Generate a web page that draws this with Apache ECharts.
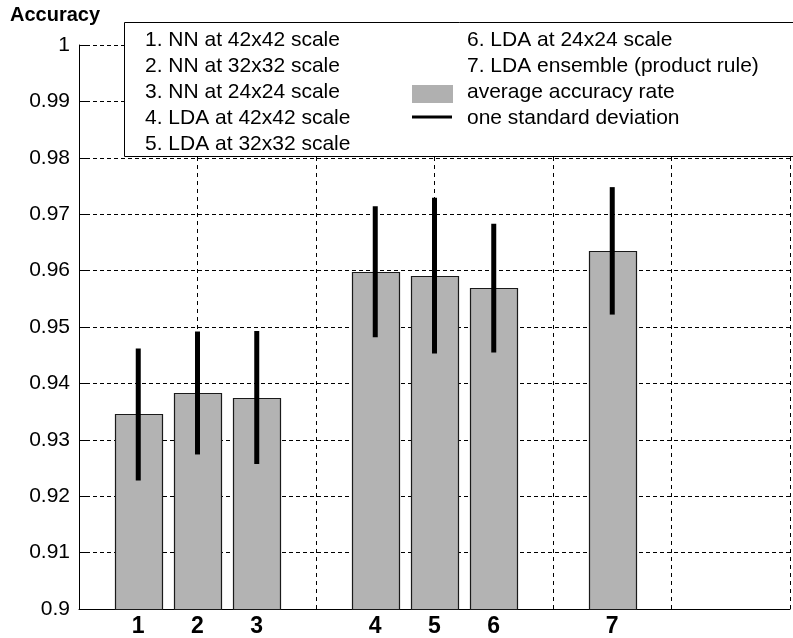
<!DOCTYPE html>
<html>
<head>
<meta charset="utf-8">
<script src="https://cdn.jsdelivr.net/npm/echarts@6/dist/echarts.min.js"></script>
<style>
html,body{margin:0;padding:0;background:#fff;}
#chart{width:793px;height:638px;}
</style>
</head>
<body>
<div id="chart"></div>
<script>
// ---- data ----
var positions = [1, 2, 3, 5, 6, 7, 9];
var categories = ['1', '2', '3', '4', '5', '6', '7'];
var meanAccuracy = [0.9345, 0.9383, 0.9375, 0.9598, 0.9591, 0.9569, 0.9635];
var stdDev = [0.0117, 0.0109, 0.0118, 0.0116, 0.0138, 0.0114, 0.0113];
var legendLeft = ['1. NN at 42x42 scale', '2. NN at 32x32 scale', '3. NN at 24x24 scale', '4. LDA at 42x42 scale', '5. LDA at 32x32 scale'];
var legendRight = ['6. LDA at 24x24 scale', '7. LDA ensemble (product rule)', 'average accuracy rate', 'one standard deviation'];
var yMin = 0.9, yMax = 1.0, yStep = 0.01;
var xMin = 0, xMax = 12;

var barData = positions.map(function (p, i) { return [p, meanAccuracy[i]]; });
var errData = positions.map(function (p, i) { return [p, meanAccuracy[i] - stdDev[i], meanAccuracy[i] + stdDev[i]]; });

var FONT = 'Liberation Sans, Arial, sans-serif';
var chart = echarts.init(document.getElementById('chart'), null, {renderer: 'canvas'});

var graphics = [];
graphics.push({
  type: 'text', left: 10, top: 5, z: 200,
  style: {text: 'Accuracy', font: 'bold 20px ' + FONT, fill: '#000'}
});
graphics.push({
  type: 'rect', z: 100,
  shape: {x: 124.5, y: 22.5, width: 720, height: 134},
  style: {fill: '#fff', stroke: '#000', lineWidth: 1}
});
legendLeft.forEach(function (t, i) {
  graphics.push({type: 'text', z: 101, x: 145, y: 40 + i * 26,
    style: {text: t, font: '21px ' + FONT, fill: '#000', verticalAlign: 'middle'}});
});
legendRight.forEach(function (t, i) {
  graphics.push({type: 'text', z: 101, x: 467, y: 40 + i * 26,
    style: {text: t, font: '21px ' + FONT, fill: '#000', verticalAlign: 'middle'}});
});
graphics.push({type: 'rect', z: 101, shape: {x: 412, y: 85, width: 41, height: 18},
  style: {fill: '#b0b0b0', stroke: null}});
graphics.push({type: 'line', z: 101, shape: {x1: 412, y1: 117, x2: 452, y2: 117},
  style: {stroke: '#000', lineWidth: 3}});

var option = {
  animation: false,
  backgroundColor: '#fff',
  grid: {left: 79, right: -6, top: 45, bottom: 27, containLabel: false},
  xAxis: [{
    type: 'value', min: xMin, max: xMax, interval: 2,
    axisLine: {show: true, onZero: false, lineStyle: {color: '#000', width: 1}},
    axisTick: {show: false},
    axisLabel: {show: false},
    splitLine: {show: true, lineStyle: {color: '#000', width: 1, type: [4, 4]}}
  }, {
    type: 'value', min: xMin, max: xMax, interval: 1, position: 'bottom',
    axisLine: {show: false}, axisTick: {show: false}, splitLine: {show: false},
    axisLabel: {
      show: true, margin: 6, color: '#000', fontSize: 23, fontWeight: 'bold', fontFamily: FONT,
      formatter: function (v) {
        var idx = positions.indexOf(Math.round(v));
        return idx >= 0 && Math.abs(v - positions[idx]) < 1e-6 ? categories[idx] : '';
      }
    }
  }],
  yAxis: {
    type: 'value', min: yMin, max: yMax, interval: yStep,
    axisLine: {show: true, lineStyle: {color: '#000', width: 1}},
    axisTick: {show: true, inside: true, length: 8, lineStyle: {color: '#000'}},
    axisLabel: {
      color: '#000', fontSize: 21, fontFamily: FONT, margin: 9,
      formatter: function (v) { return String(parseFloat(v.toFixed(2))); }
    },
    splitLine: {show: true, lineStyle: {color: '#000', width: 1, type: [4, 3]}}
  },
  graphic: graphics,
  series: [{
    type: 'custom', xAxisIndex: 0, yAxisIndex: 0, z: 10,
    data: barData,
    renderItem: function (params, api) {
      var x = api.value(0), v = api.value(1);
      var p0 = api.coord([x - 0.4, v]);
      var p1 = api.coord([x + 0.4, yMin]);
      var x0 = Math.round(p0[0]) + 0.5, x1 = Math.round(p1[0]) + 0.5;
      var y0 = Math.round(p0[1]) + 0.5, y1 = Math.floor(p1[1]) + 0.5;
      return {type: 'rect',
        shape: {x: x0, y: y0, width: x1 - x0, height: y1 - y0},
        style: {fill: '#b3b3b3', stroke: '#1a1a1a', lineWidth: 1.2}};
    }
  }, {
    type: 'custom', xAxisIndex: 0, yAxisIndex: 0, z: 11,
    data: errData,
    renderItem: function (params, api) {
      var x = api.value(0);
      var lo = api.coord([x, api.value(1)]);
      var hi = api.coord([x, api.value(2)]);
      return {type: 'line',
        shape: {x1: lo[0], y1: lo[1], x2: hi[0], y2: hi[1]},
        style: {stroke: '#000', lineWidth: 5}};
    }
  }]
};
chart.setOption(option);
</script>
</body>
</html>
